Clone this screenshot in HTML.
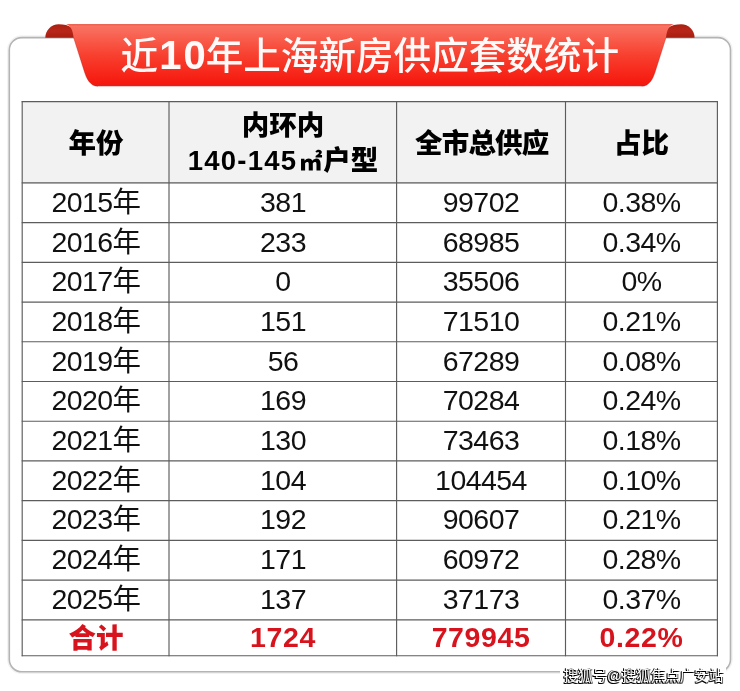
<!DOCTYPE html>
<html lang="zh-CN">
<head>
<meta charset="utf-8">
<title>近10年上海新房供应套数统计</title>
<style>
  html, body { margin: 0; padding: 0; }
  body {
    width: 740px; height: 691px; overflow: hidden; position: relative;
    background: #ffffff;
    font-family: "Liberation Sans", "Noto Sans CJK SC", sans-serif;
    color: #111;
  }
  .ribbon { position: absolute; left: 0; top: 0; width: 740px; height: 691px; }
  .title {
    position: absolute; left: 120.6px; top: 31px; text-align: left;
    color: #fffafa; font-size: 37.6px; line-height: 48px; white-space: nowrap; font-weight: 500;
    font-family: "Liberation Sans", "Noto Sans CJK SC", sans-serif;
  }
  .title b { font-weight: 700; font-size: 40px; letter-spacing: 2px; margin-left: 1px; margin-right: -2px; }
  table.data {
    position: absolute; left: 22px; top: 101px; border-collapse: collapse;
    table-layout: fixed; width: 695px;
  }
  table.data td, table.data th {
    border: 1px solid transparent; padding: 0; text-align: center; vertical-align: middle;
    font-size: 27.5px; font-weight: 400; white-space: nowrap;
  }
  table.data thead th { background: #f2f2f2; font-weight: 900; color: #000; height: 78.5px; line-height: 35px; font-size: 27.5px; padding-top: 2.5px; }
  .hd { letter-spacing: 1.2px; }
  table.data thead th.tot { letter-spacing: -0.8px; text-indent: 1.5px; }
  .sqm { font-size: 23px; margin-left: 2px; margin-right: 1px; }
  table.data tbody td { height: 35.7px; padding: 0 0 3px 0; line-height: 30px; font-size: 28.5px; letter-spacing: -0.55px; }
  table.data tbody tr.total td { height: 31.9px; padding-top: 0; padding-bottom: 3px; color: #d7141d; font-weight: 900; font-size: 28.5px; letter-spacing: 0.6px; }
  table.data tbody tr.total td:first-child { font-size: 27.5px; letter-spacing: 0; padding-top: 1px; padding-bottom: 0; height: 33.9px; }
  .grid { position: absolute; left: 0; top: 0; pointer-events: none; }
  .wm {
    position: absolute; left: 559.5px; top: 664.5px; padding: 1px 3px 3px 4px; font-size: 14.5px; line-height: 20px;
    color: #fff; white-space: nowrap; font-weight: 400; background: #fff;
    font-family: "Liberation Sans", "Noto Sans CJK SC", sans-serif;
    text-shadow: -1px 1px 0 #000, 0 1px 0 #222, -1px 0 0 #333, 1px 1px 0 #666;
  }
</style>
</head>
<body>
<svg class="ribbon" width="740" height="691" viewBox="0 0 740 691">
  <defs>
    <linearGradient id="rg" x1="0" y1="0" x2="0" y2="1">
      <stop offset="0" stop-color="#e9604f"/>
      <stop offset="0.04" stop-color="#f97262"/>
      <stop offset="0.5" stop-color="#f8402f"/>
      <stop offset="0.96" stop-color="#f6180e"/>
      <stop offset="1" stop-color="#d8261d"/>
    </linearGradient>
    <linearGradient id="cg" x1="0" y1="0" x2="0" y2="1">
      <stop offset="0" stop-color="#a92011"/>
      <stop offset="0.5" stop-color="#b9261a"/>
      <stop offset="1" stop-color="#a51e10"/>
    </linearGradient>
  </defs>
  <!-- card -->
  <rect x="9.3" y="37.6" width="721.2" height="634.2" rx="12.5" ry="12.5" fill="#fff" stroke="#000" stroke-opacity="0.05" stroke-width="4.5"/>
  <rect x="9.3" y="37.6" width="721.2" height="634.2" rx="12.5" ry="12.5" fill="#fff" stroke="#b4b4b4" stroke-width="1.6"/>
  <!-- curls -->
  <path d="M45.3 37.8 C45.3 30.2 51.3 24.2 58.7 24.2 C64 24.2 68.5 25 72 28 L78 37.8 Z" fill="url(#cg)"/>
  <path d="M694.6 37.8 C694.6 30.2 688.6 24.2 681.2 24.2 C675.9 24.2 671.4 25 667.9 28 L661.9 37.8 Z" fill="url(#cg)"/>
  <!-- main ribbon -->
  <path d="M66 24 L673.8 24 C669.2 25.5 666.8 30 666 37.6 L655.1 72 C653.2 78 649.6 86.3 641.6 86.3 L98 86.3 C90 86.3 86.4 78 84.5 72 L73.6 37.6 C72.8 30 70.6 25.5 66 24 Z" fill="url(#rg)"/>
  <path d="M73.6 37.6 L84.5 72 C86.4 78 90 86.3 98 86.3" fill="none" stroke="#a80d08" stroke-opacity="0.35" stroke-width="1"/>
  <path d="M666 37.6 L655.1 72 C653.2 78 649.6 86.3 641.6 86.3" fill="none" stroke="#a80d08" stroke-opacity="0.35" stroke-width="1"/>
</svg>
<div class="title">近<b>10</b>年上海新房供应套数统计</div>
<table class="data">
  <colgroup>
    <col style="width:147px"><col style="width:227px"><col style="width:169px"><col style="width:152px">
  </colgroup>
  <thead>
    <tr><th>年份</th><th>内环内<br><span class="hd">140-145</span><span class="sqm">㎡</span>户型</th><th class="tot">全市总供应</th><th>占比</th></tr>
  </thead>
  <tbody>
    <tr><td>2015年</td><td>381</td><td>99702</td><td>0.38%</td></tr>
    <tr><td>2016年</td><td>233</td><td>68985</td><td>0.34%</td></tr>
    <tr><td>2017年</td><td>0</td><td>35506</td><td>0%</td></tr>
    <tr><td>2018年</td><td>151</td><td>71510</td><td>0.21%</td></tr>
    <tr><td>2019年</td><td>56</td><td>67289</td><td>0.08%</td></tr>
    <tr><td>2020年</td><td>169</td><td>70284</td><td>0.24%</td></tr>
    <tr><td>2021年</td><td>130</td><td>73463</td><td>0.18%</td></tr>
    <tr><td>2022年</td><td>104</td><td>104454</td><td>0.10%</td></tr>
    <tr><td>2023年</td><td>192</td><td>90607</td><td>0.21%</td></tr>
    <tr><td>2024年</td><td>171</td><td>60972</td><td>0.28%</td></tr>
    <tr><td>2025年</td><td>137</td><td>37173</td><td>0.37%</td></tr>
    <tr class="total"><td>合计</td><td>1724</td><td>779945</td><td>0.22%</td></tr>
  </tbody>
</table>
<svg class="grid" width="740" height="691" viewBox="0 0 740 691"><g stroke="#5c5c5c" stroke-width="1.15" fill="none">
  <line x1="22.2" y1="101.1" x2="22.2" y2="656.2"/>
  <line x1="169.0" y1="101.1" x2="169.0" y2="656.2"/>
  <line x1="396.6" y1="101.1" x2="396.6" y2="656.2"/>
  <line x1="565.5" y1="101.1" x2="565.5" y2="656.2"/>
  <line x1="717.4" y1="101.1" x2="717.4" y2="656.2"/>
  <line x1="21.7" y1="101.6" x2="717.9" y2="101.6"/>
  <line x1="21.7" y1="182.9" x2="717.9" y2="182.9"/>
  <line x1="21.7" y1="222.62" x2="717.9" y2="222.62"/>
  <line x1="21.7" y1="262.34" x2="717.9" y2="262.34"/>
  <line x1="21.7" y1="302.06" x2="717.9" y2="302.06"/>
  <line x1="21.7" y1="341.78" x2="717.9" y2="341.78"/>
  <line x1="21.7" y1="381.5" x2="717.9" y2="381.5"/>
  <line x1="21.7" y1="421.22" x2="717.9" y2="421.22"/>
  <line x1="21.7" y1="460.94" x2="717.9" y2="460.94"/>
  <line x1="21.7" y1="500.66" x2="717.9" y2="500.66"/>
  <line x1="21.7" y1="540.38" x2="717.9" y2="540.38"/>
  <line x1="21.7" y1="580.1" x2="717.9" y2="580.1"/>
  <line x1="21.7" y1="619.82" x2="717.9" y2="619.82"/>
  <line x1="21.7" y1="655.7" x2="717.9" y2="655.7"/>
</g></svg>
<div class="wm">搜狐号@搜狐焦点广安站</div>
</body>
</html>
